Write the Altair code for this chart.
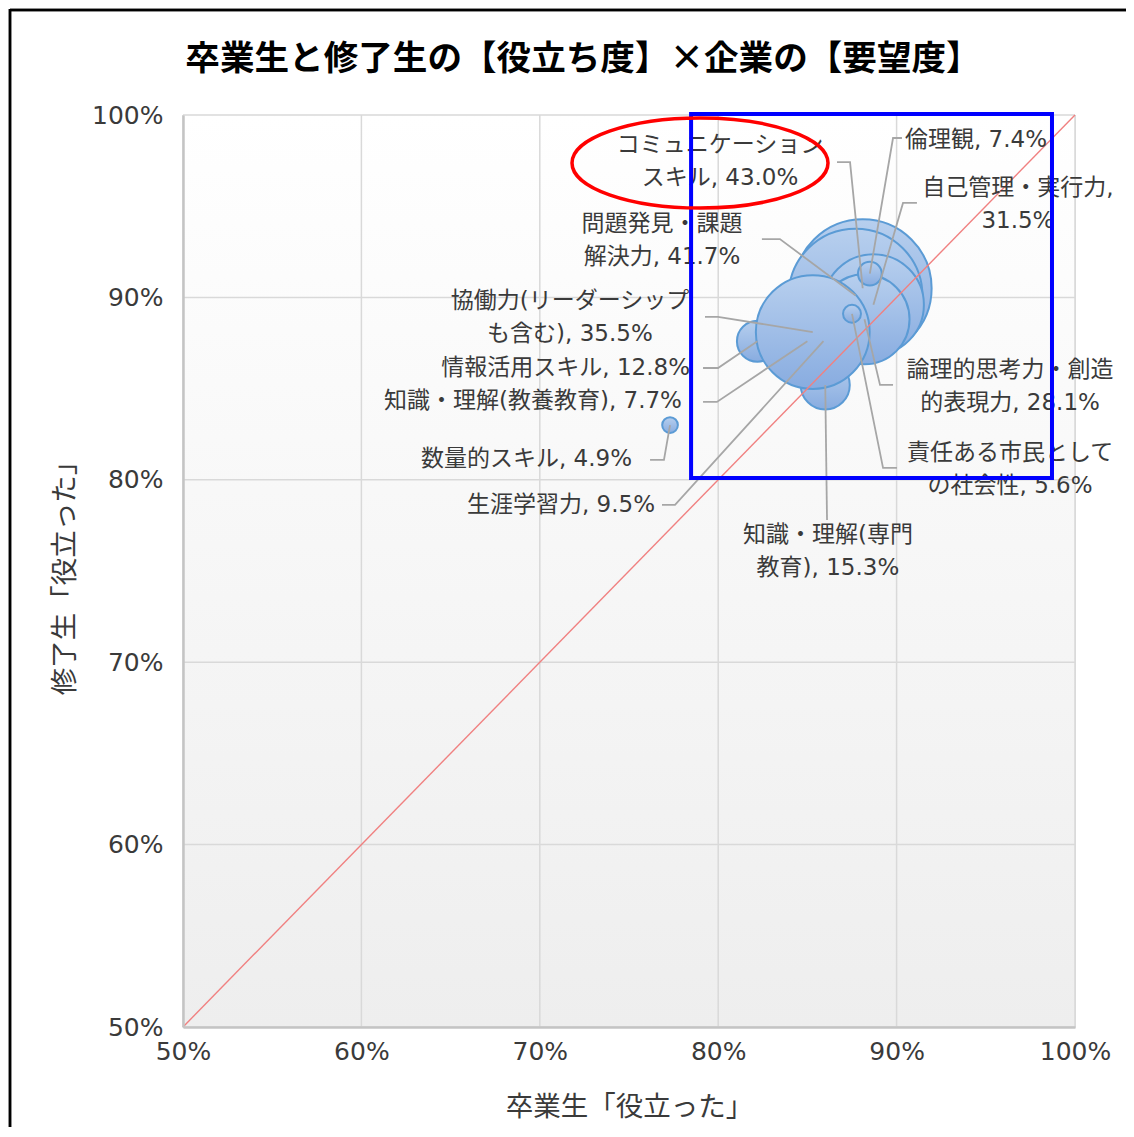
import altair as alt
import pandas as pd

# ---------------- data ----------------
skills = ["知識・理解(教養教育)", "生涯学習力", "情報活用スキル", "知識・理解(専門教育)",
          "コミュニケーションスキル", "問題発見・課題解決力", "自己管理・実行力",
          "論理的思考力・創造的表現力", "倫理観", "協働力(リーダーシップも含む)",
          "責任ある市民としての社会性", "数量的スキル"]
graduates = [85.0, 85.9, 82.2, 86.0, 88.1, 87.7, 88.7, 88.2, 88.5, 85.3, 87.5, 77.3]   # 卒業生「役立った」(%)
postgrads = [87.6, 87.6, 87.6, 85.2, 90.5, 90.1, 89.6, 88.8, 91.3, 88.1, 89.1, 83.0]   # 修了生「役立った」(%)
demand = [7.7, 9.5, 12.8, 15.3, 43.0, 41.7, 31.5, 28.1, 7.4, 35.5, 5.6, 4.9]           # 企業の要望度 (%)
label_text = ["知識・理解(教養教育), 7.7%", "生涯学習力, 9.5%", "情報活用スキル, 12.8%",
              "知識・理解(専門\n教育), 15.3%", "コミュニケーション\nスキル, 43.0%",
              "問題発見・課題\n解決力, 41.7%", "自己管理・実行力,\n31.5%",
              "論理的思考力・創造\n的表現力, 28.1%", "倫理観, 7.4%",
              "協働力(リーダーシップ\nも含む), 35.5%", "責任ある市民として\nの社会性, 5.6%",
              "数量的スキル, 4.9%"]
tick_values = [50, 60, 70, 80, 90, 100]
diag_values = [50, 100]
title_text = "卒業生と修了生の【役立ち度】×企業の【要望度】"

# label placement (axis units, first text line) and leader-line elbows
label_x = [77.97, 76.46, 78.42, 86.15, 80.10, 76.85, 96.80, 96.36, 90.47, 71.69, 96.36, 75.17]
label_y = [84.32, 78.62, 86.13, 76.97, 98.36, 94.02, 96.00, 86.02, 98.63, 89.80, 81.47, 81.14]
label_align = ["right", "right", "right", "center", "center", "center", "center", "center",
               "left", "center", "center", "right"]
elbow_x = [79.93, 77.58, 79.99, 86.10, 87.39, 83.46, 90.36, 89.07, 89.80, 79.99, 89.24, 76.96]
elbow_y = [84.27, 78.62, 86.13, 77.80, 97.42, 93.20, 95.18, 85.20, 98.74, 88.93, 80.65, 81.09]
end_x = [79.15, 76.85, 79.15, 86.10, 86.66, 82.45, 91.14, 89.80, 90.30, 79.26, 90.02, 76.18]
end_y = [84.27, 78.62, 86.13, 77.80, 97.42, 93.20, 95.18, 85.20, 98.74, 88.93, 80.65, 81.09]

# annotations
box_x = [78.48, 98.71]
box_y = [100.05, 80.10]
ellipse_center = [78.98, 97.37]

# ---------------- tables ----------------
bubbles = pd.DataFrame({"skill": skills, "grad": graduates, "post": postgrads, "demand": demand})
labels = pd.DataFrame({"skill": skills, "label": label_text, "lx": label_x, "ly": label_y,
                       "align": label_align})
rows = []
for i, s in enumerate(skills):
    rows.append({"skill": s, "seq": 0, "x": graduates[i], "y": postgrads[i]})
    rows.append({"skill": s, "seq": 1, "x": elbow_x[i], "y": elbow_y[i]})
    rows.append({"skill": s, "seq": 2, "x": end_x[i], "y": end_y[i]})
leaders = pd.DataFrame(rows)
diag = pd.DataFrame({"x": diag_values, "y": diag_values})
ticks = pd.DataFrame({"v": tick_values})
box = pd.DataFrame({"x1": [box_x[0]], "x2": [box_x[1]], "y1": [box_y[0]], "y2": [box_y[1]]})
ell = pd.DataFrame({"x": [ellipse_center[0]], "y": [ellipse_center[1]]})
ttl = pd.DataFrame({"t": [title_text]})

# ---------------- styling ----------------
W, H = 892, 912
PAD_L, PAD_T, PAD_R, PAD_B = 175, 107, 51, 100
FONT = "DejaVu Sans, Noto Sans CJK JP"
CJK = "Noto Sans CJK JP"
TXT = "#3a3a3a"

xscale = alt.Scale(domain=[50, 100], nice=False, zero=False)
yscale = alt.Scale(domain=[50, 100], nice=False, zero=False)

xaxis = alt.Axis(values=tick_values, labelExpr="datum.value + '%'", title="卒業生「役立った」",
                 grid=False, domainColor="#c4c4c4", domainWidth=2.5, ticks=False, zindex=1,
                 labelFont=FONT, labelFontSize=25, labelColor=TXT, labelPadding=12,
                 labelFlush=False, labelOverlap=False, titleFont=CJK, titleFontSize=27.5,
                 titleFontWeight="normal", titleColor=TXT, titleX=W / 2, titleY=80,
                 titleBaseline="middle", titleAlign="center")
yaxis = alt.Axis(values=tick_values, labelExpr="datum.value + '%'", title="修了生「役立った」",
                 grid=False, domainColor="#c4c4c4", domainWidth=2.5, ticks=False, zindex=1,
                 labelFont=FONT, labelFontSize=25, labelColor=TXT, labelPadding=20,
                 labelOverlap=False, titleFont=CJK, titleFontSize=27.5, titleFontWeight="normal",
                 titleColor=TXT, titleX=-118, titleY=H / 2, titleAngle=270,
                 titleBaseline="middle", titleAlign="center")


def X(f):
    return alt.X(f, type="quantitative", scale=xscale, axis=xaxis)


def Y(f):
    return alt.Y(f, type="quantitative", scale=yscale, axis=yaxis)


bg_grad = alt.LinearGradient(gradient="linear", x1=0, x2=0, y1=0, y2=1,
                             stops=[alt.GradientStop(color="#ffffff", offset=0),
                                    alt.GradientStop(color="#eeeeee", offset=1)])
bubble_grad = alt.LinearGradient(gradient="linear", x1=0, x2=0, y1=0, y2=1,
                                 stops=[alt.GradientStop(color="#b7cfee", offset=0),
                                        alt.GradientStop(color="#88ace0", offset=1)])

background = alt.Chart(diag).mark_rect(fill=bg_grad).encode(
    x=alt.value(0), x2=alt.value(W), y=alt.value(0), y2=alt.value(H))

# outer frame (top and left edges of the picture border)
frame_top = alt.Chart(diag).mark_rule(color="#000000", strokeWidth=2.5).encode(
    x=alt.value(-PAD_L + 2), x2=alt.value(W + PAD_R), y=alt.value(-PAD_T + 2))
frame_left = alt.Chart(diag).mark_rule(color="#000000", strokeWidth=2.5).encode(
    x=alt.value(-PAD_L + 2), y=alt.value(-PAD_T + 1), y2=alt.value(H + PAD_B))

vgrid = alt.Chart(ticks).mark_rule(color="#d9d9d9", strokeWidth=1.5).encode(x=X("v"))
hgrid = alt.Chart(ticks).mark_rule(color="#d9d9d9", strokeWidth=1.5).encode(y=Y("v"))

circles = alt.Chart(bubbles).mark_circle(fill=bubble_grad, stroke="#5b9bd5", strokeWidth=2,
                                         opacity=1).encode(
    x=X("grad"), y=Y("post"),
    size=alt.Size("demand:Q", scale=alt.Scale(type="pow", exponent=2, domain=[0, max(demand)],
                                              range=[0, 19000]), legend=None))

diag_line = alt.Chart(diag).mark_line(color="#f08080", strokeWidth=1.4).encode(x=X("x"), y=Y("y"))

leader_lines = alt.Chart(leaders).mark_line(color="#a6a6a6", strokeWidth=1.8).encode(
    x=X("x"), y=Y("y"), detail="skill:N", order="seq:Q")

text_layers = []
for a in ["left", "center", "right"]:
    text_layers.append(
        alt.Chart(labels).transform_filter(alt.datum.align == a).mark_text(
            align=a, baseline="middle", lineBreak="\n", font=FONT, fontSize=23, lineHeight=33,
            color=TXT).encode(x=X("lx"), y=Y("ly"), text="label:N"))

blue_box = alt.Chart(box).mark_rect(fillOpacity=0, stroke="#0000ff", strokeWidth=4).encode(
    x=X("x1"), x2="x2", y=Y("y1"), y2="y2")

ellipse = alt.Chart(ell).mark_point(
    shape="M -1 0 A 1 0.352 0 1 1 1 0 A 1 0.352 0 1 1 -1 0 Z", size=65536, filled=False,
    stroke="#ff0000", strokeWidth=3.5, opacity=1).encode(x=X("x"), y=Y("y"))

title = alt.Chart(ttl).mark_text(font=CJK, fontSize=34.6, fontWeight="bold", color="#000000",
                                 align="center", baseline="middle").encode(
    x=alt.value(400), y=alt.value(-55), text="t:N")

chart = alt.layer(background, vgrid, hgrid, frame_top, frame_left, circles, diag_line,
                  leader_lines, *text_layers, blue_box, ellipse, title).properties(
    width=W, height=H,
    autosize=alt.AutoSizeParams(type="none"),
    padding={"left": PAD_L, "top": PAD_T, "right": PAD_R, "bottom": PAD_B},
).configure_view(strokeWidth=0).configure(background="#ffffff")

chart.save("out.html", embed_options={"renderer": "svg", "actions": False})
